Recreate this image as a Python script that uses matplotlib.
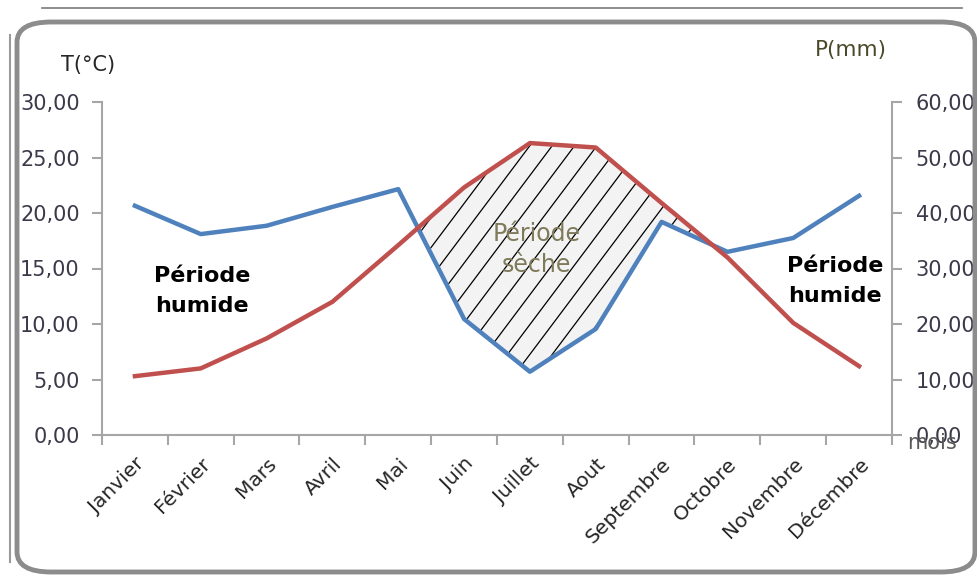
import matplotlib
matplotlib.use('Agg')
import matplotlib.pyplot as plt
import numpy as np
from matplotlib.patches import FancyBboxPatch
from matplotlib.lines import Line2D

mois = ['Janvier', 'Février', 'Mars', 'Avril', 'Mai', 'Juin', 'Juillet',
        'Aout', 'Septembre', 'Octobre', 'Novembre', 'Décembre']
temperature = [5.3, 6.0, 8.7, 12.0, 17.1, 22.3, 26.3, 25.9, 20.9, 16.0, 10.1, 6.2]
precipitation = [41.3, 36.2, 37.7, 41.1, 44.3, 20.9, 11.4, 19.1, 38.4, 33.0, 35.5, 43.1]
t_ticks = [0, 5, 10, 15, 20, 25, 30]
p_ticks = [0, 10, 20, 30, 40, 50, 60]

W, H = 978, 577
fig = plt.figure(figsize=(W / 100, H / 100), dpi=100)
plt.rcParams['font.family'] = ['DejaVu Sans']

def fx(px):
    return px / W

def fy(py):
    return 1 - py / H

# rounded frame around the chart
frame = FancyBboxPatch((fx(17), fy(572)), fx(975) - fx(17), fy(22) - fy(572),
                       boxstyle='round,pad=0,rounding_size=0.035',
                       transform=fig.transFigure, fill=False,
                       edgecolor='#8c8c8c', linewidth=3.5, zorder=0)
fig.patches.append(frame)
fig.lines.append(Line2D([fx(10), fx(10)], [fy(35), fy(562)], transform=fig.transFigure,
                        color='#9a9a9a', linewidth=1.5))
fig.lines.append(Line2D([fx(42), fx(962)], [fy(8), fy(8)], transform=fig.transFigure,
                        color='#7a7a7a', linewidth=1.2))

ax = fig.add_axes([fx(102), fy(435), fx(892) - fx(102), fy(102) - fy(435)])
ax2 = ax.twinx()

x = np.arange(len(mois))
t = np.array(temperature)
p = np.array(precipitation)

ax.set_xlim(-0.5, len(mois) - 0.5)
ax.set_ylim(0, 30)
ax2.set_ylim(0, 60)

# dry season: temperature curve above precipitation (P = 2T)
dry = ax2.fill_between(x, p, 2 * t, where=2 * t >= p, interpolate=True,
                       facecolor='#f3f3f3', edgecolor='none', zorder=1)
clip = dry.get_paths()[0]
slope = 15.8
for x0 in np.arange(1.0, 11.0, 0.34):
    ln, = ax2.plot([x0, x0 + 60 / slope], [0, 60], color='black', linewidth=0.9, zorder=2)
    ln.set_clip_path(clip, ax2.transData)

ax2.plot(x, p, color='#4f81bd', linewidth=3.2, zorder=4)

ax.set_zorder(ax2.get_zorder() + 1)
ax.patch.set_visible(False)
ax.plot(x, t, color='#c0504d', linewidth=3.2, zorder=3)

spine_col = '#a6a6a6'
for a in (ax, ax2):
    for s in a.spines.values():
        s.set_visible(False)
ax.spines['left'].set_visible(True)
ax.spines['bottom'].set_visible(True)
ax2.spines['right'].set_visible(True)
for s in (ax.spines['left'], ax.spines['bottom'], ax2.spines['right']):
    s.set_color(spine_col)
    s.set_linewidth(1.5)

ax.set_yticks(t_ticks)
ax.set_yticklabels([('%.2f' % v).replace('.', ',') for v in t_ticks])
ax2.set_yticks(p_ticks)
ax2.set_yticklabels([('%.2f' % v).replace('.', ',') for v in p_ticks])

ax.set_xticks(x)
ax.set_xticklabels(mois, rotation=45, ha='right', rotation_mode='anchor')
ax.set_xticks(np.arange(-0.5, len(mois)), minor=True)
ax.tick_params(axis='x', which='major', length=0, pad=14, labelsize=14.5, labelcolor='#262626')
ax.tick_params(axis='x', which='minor', length=7, width=1.5, color=spine_col)
ax.tick_params(axis='y', length=7, width=1.5, color=spine_col, labelsize=15,
               labelcolor='#3a3a4a', pad=9)
ax2.tick_params(axis='y', length=7, width=1.5, color=spine_col, labelsize=15,
                labelcolor='#3a3a4a', pad=10)

fig.text(fx(88), fy(65), 'T(°C)', fontsize=15, color='#262626', ha='center', va='center')
fig.text(fx(851), fy(50), 'P(mm)', fontsize=15.5, color='#4a4a2a', ha='center', va='center')
fig.text(fx(932), fy(443), 'mois', fontsize=15, color='#595959', ha='center', va='center')

ax.text(1.02, 13.0, 'Période\nhumide', fontsize=16, fontweight='bold', color='black',
        ha='center', va='center', linespacing=1.6, zorder=6)
ax.text(10.63, 13.9, 'Période\nhumide', fontsize=16, fontweight='bold', color='black',
        ha='center', va='center', linespacing=1.6, zorder=6)
ax.text(6.1, 16.7, 'Période\nsèche', fontsize=17, color='#7f7a5a',
        ha='center', va='center', linespacing=1.4, zorder=6)

fig.savefig('out.png', dpi=100)
